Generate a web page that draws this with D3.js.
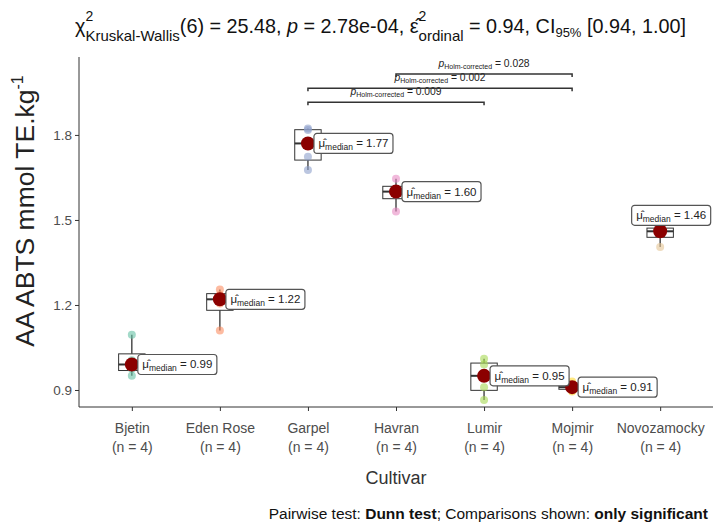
<!DOCTYPE html>
<html><head><meta charset="utf-8">
<script src="https://cdn.jsdelivr.net/npm/d3@7"></script>
<style>
body{margin:0;background:#fff}
text{font-family:"Liberation Sans",Arial,sans-serif}
</style>
</head><body>
<svg id="c" width="713" height="525"></svg>
<script>
// ---------- data ----------
const categories = ["Bjetin","Eden Rose","Garpel","Havran","Lumir","Mojmir","Novozamocky"];
const counts = [4,4,4,4,4,4,4];
const bjetin      = [0.95, 0.975, 1.005, 1.095];
const edenRose    = [1.11, 1.205, 1.235, 1.255];
const garpel      = [1.676, 1.723, 1.817, 1.823];
const havran      = [1.53, 1.59, 1.61, 1.645];
const lumir       = [0.865, 0.91, 0.99, 1.01];
const mojmir      = [0.895, 0.905, 0.915, 0.93];
const novozamocky = [1.405, 1.45, 1.47, 1.475];
const seriesValues = [bjetin, edenRose, garpel, havran, lumir, mojmir, novozamocky];
const medians = [0.99, 1.22, 1.77, 1.60, 0.95, 0.91, 1.46];
const yTicks = [0.9, 1.2, 1.5, 1.8];
const compFrom = ["Garpel","Garpel","Havran"];
const compTo   = ["Lumir","Mojmir","Mojmir"];
const pHolm    = ["0.009","0.002","0.028"];

(function () {
// ---------- setup ----------
const W = 713, H = 525;
const svg = d3.select("#c");
const pLeft = 79, pRight = 713, pTop = 57, pBottom = 407;
const x = d3.scalePoint().domain(categories).range([pLeft, pRight]).padding(0.6);
const y = d3.scaleLinear().domain([0.84, 2.075]).range([pBottom, pTop]);
const colors = ["#66C2A5","#FC8D62","#8DA0CB","#E78AC3","#A6D854","#FFD92F","#E5C494"];

function rich(parent, px, py, pieces, anchor, baseSize, color) {
  const g = parent.append("g");
  const t = g.append("text").attr("fill", color).style("white-space","pre");
  let cx = 0, hold = 0;
  pieces.forEach(p => {
    const ts = t.append("tspan").attr("x", cx).attr("y", p.dy || 0)
      .attr("font-size", p.s || baseSize).text(p.t);
    if (p.i) ts.attr("font-style","italic");
    if (p.b) ts.attr("font-weight","bold");
    const w = ts.node().getComputedTextLength();
    if (p.hold) { hold = Math.max(hold, w); }
    else { cx += Math.max(w, hold); hold = 0; }
  });
  const off = anchor === "middle" ? -cx/2 : anchor === "end" ? -cx : 0;
  g.attr("transform", `translate(${px + off},${py})`);
  return {g, width: cx};
}

// ---------- axes ----------
const yAxis = svg.append("g").attr("transform", `translate(${pLeft},0)`)
  .call(d3.axisLeft(y).tickValues(yTicks).tickFormat(d3.format(".1f")).tickSize(4).tickSizeOuter(0));
yAxis.select(".domain").attr("d", `M0,${pTop}V${pBottom}`);
const xAxis = svg.append("g").attr("transform", `translate(0,${pBottom})`)
  .call(d3.axisBottom(x).tickSize(4).tickSizeOuter(0));
xAxis.select(".domain").attr("d", `M${pLeft},0H${pRight}`);
[yAxis, xAxis].forEach(a => {
  a.selectAll(".domain, .tick line").attr("stroke", "#333").attr("stroke-width", 1);
  a.selectAll(".tick text").attr("fill", "#4d4d4d").attr("font-size", 13.5)
    .attr("font-family", "Liberation Sans, Arial, sans-serif");
});
yAxis.selectAll(".tick text").attr("x", -7);
xAxis.selectAll(".tick text").each(function(d, i) {
  const t = d3.select(this).text(null).attr("y", 0).attr("dy", null).attr("font-size", 14);
  t.append("tspan").attr("x", 0).attr("y", 26).text(d);
  t.append("tspan").attr("x", 0).attr("y", 45).text(`(n = ${counts[i]})`);
});

// axis titles
svg.append("text").attr("x", (pLeft + pRight) / 2).attr("y", 484).attr("text-anchor", "middle")
  .attr("font-size", 18).attr("fill", "#333").text("Cultivar");
const yl = svg.append("g").attr("transform", `translate(34,211) rotate(-90)`);
rich(yl, 0, 0, [{t:"AA ABTS mmol TE.kg"}, {t:"-1", s:16, dy:-11}], "middle", 26.5, "#222");

// ---------- boxplots ----------
const bw = x.step() * 0.3;
categories.forEach((c, i) => {
  const v = seriesValues[i].slice().sort(d3.ascending);
  const q1 = d3.quantile(v, 0.25), q2 = d3.quantile(v, 0.5), q3 = d3.quantile(v, 0.75);
  const iqr = q3 - q1;
  const lo = d3.min(v.filter(d => d >= q1 - 1.5 * iqr));
  const hi = d3.max(v.filter(d => d <= q3 + 1.5 * iqr));
  const cx = x(c);
  const g = svg.append("g").attr("stroke", "#333").attr("stroke-width", 1).attr("fill", "none");
  g.append("line").attr("x1", cx).attr("x2", cx).attr("y1", y(q3)).attr("y2", y(hi)).attr("stroke-width", 1.3);
  g.append("line").attr("x1", cx).attr("x2", cx).attr("y1", y(q1)).attr("y2", y(lo)).attr("stroke-width", 1.3);
  g.append("rect").attr("x", cx - bw / 2).attr("y", y(q3)).attr("width", bw)
    .attr("height", Math.max(0.5, y(q1) - y(q3))).attr("fill", "#fff").attr("fill-opacity", 0.2);
  g.append("line").attr("x1", cx - bw / 2).attr("x2", cx + bw / 2).attr("y1", y(q2)).attr("y2", y(q2)).attr("stroke-width", 2);
  svg.append("g").selectAll("circle").data(seriesValues[i]).join("circle")
    .attr("cx", cx).attr("cy", d => y(d)).attr("r", 4)
    .attr("fill", colors[i]).attr("fill-opacity", 0.6);
});

// median dots
svg.append("g").selectAll("circle").data(categories).join("circle")
  .attr("cx", c => x(c)).attr("cy", (c, i) => y(medians[i])).attr("r", 7).attr("fill", "#8B0000");

// median labels
categories.forEach((c, i) => {
  const g = svg.append("g");
  const lab = rich(g, 0, 0, [{t:"μ̂"}, {t:"median", s:8.5, dy:3}, {t:" = " + medians[i].toFixed(2)}], "start", 11.5, "#222");
  const wBox = lab.width + 9, hBox = 20;
  let bx = x(c) + 6, by = y(medians[i]) - hBox / 2;
  if (bx + wBox > W - 4) { bx = x(c) + 11 - wBox / 2; by = y(medians[i]) - 6 - hBox; }
  g.insert("rect", ":first-child").attr("x", 0).attr("y", 0).attr("width", wBox).attr("height", hBox)
    .attr("rx", 3).attr("fill", "#fff").attr("stroke", "#555").attr("stroke-width", 1.2);
  lab.g.attr("transform", "translate(4.5,14)");
  g.attr("transform", `translate(${bx},${by})`);
});

// ---------- pairwise brackets ----------
const yMax = d3.max(seriesValues.flat());
compFrom.forEach((a, k) => {
  const by = y(yMax + 0.092 + 0.05 * k);
  const x1 = x(a), x2 = x(compTo[k]);
  svg.append("path").attr("d", `M${x1},${by + 3}V${by}H${x2}V${by + 3}`)
    .attr("fill", "none").attr("stroke", "#333").attr("stroke-width", 1.5);
  rich(svg, (x1 + x2) / 2, by - 7, [{t:"p", i:true}, {t:"Holm-corrected", s:7, dy:2}, {t:" = " + pHolm[k]}], "middle", 10.3, "#222");
});

// ---------- title & caption ----------
rich(svg, 75, 33, [
  {t:"χ"}, {t:"2", s:14, dy:-12, hold:true}, {t:"Kruskal-Wallis", s:15, dy:8},
  {t:"(6) = 25.48, "}, {t:"p", i:true}, {t:" = 2.78e-04, "},
  {t:"ε̂"}, {t:"2", s:14, dy:-12, hold:true}, {t:"ordinal", s:15, dy:8},
  {t:" = 0.94, CI"}, {t:"95%", s:13, dy:4}, {t:" [0.94, 1.00]"}
], "start", 19.8, "#111");

rich(svg, 708, 519, [
  {t:"Pairwise test: "}, {t:"Dunn test", b:true}, {t:"; Comparisons shown: "}, {t:"only significant", b:true}
], "end", 15.5, "#111");
})();
</script>
</body></html>
